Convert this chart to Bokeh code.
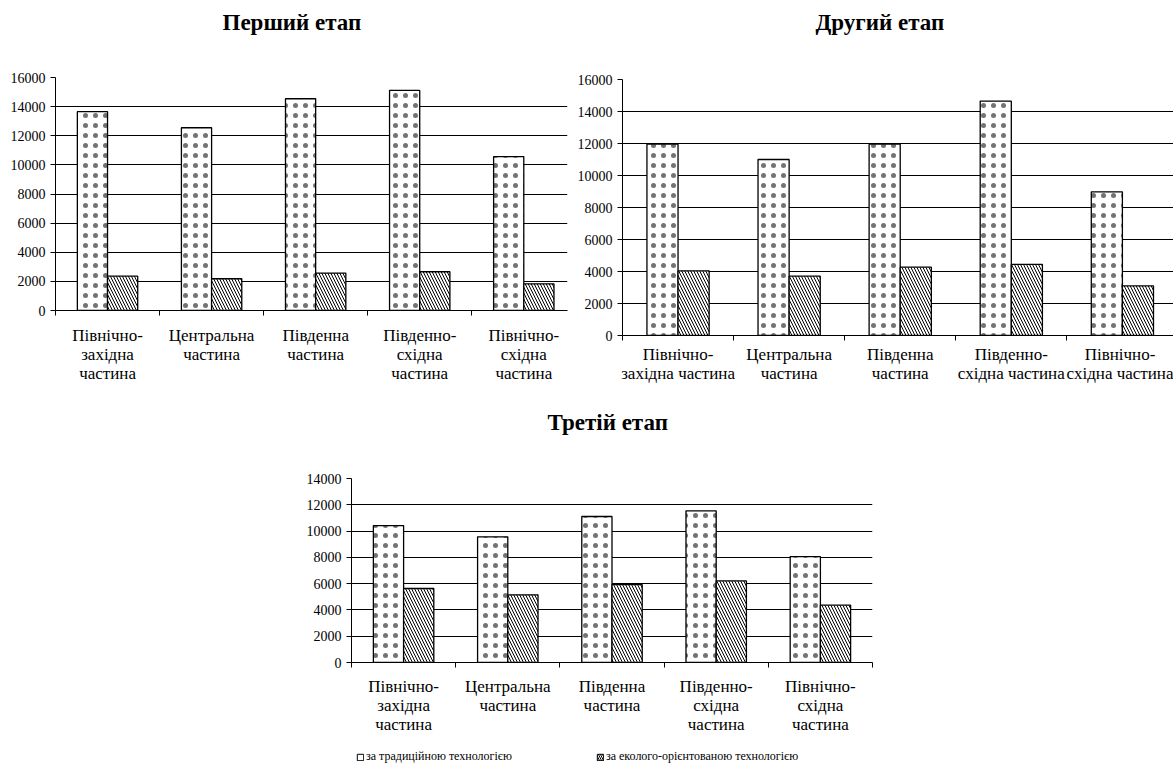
from bokeh.plotting import figure
from bokeh.models import (Range1d, LinearAxis, FixedTicker, SingleIntervalTicker, Grid,
                          Legend, LegendItem, Title, ColumnDataSource)
from bokeh.layouts import column, row
from bokeh.transform import dodge
from bokeh.embed import file_html
from bokeh.resources import INLINE

# ---------------- data ----------------
stage_titles = ["Перший етап", "Другий етап", "Третій етап"]
regions_three_lines = ["Північно-\nзахідна\nчастина", "Центральна\nчастина", "Південна\nчастина",
                       "Південно-\nсхідна\nчастина", "Північно-\nсхідна\nчастина"]
regions_two_lines = ["Північно-\nзахідна частина", "Центральна\nчастина", "Південна\nчастина",
                     "Південно-\nсхідна частина", "Північно-\nсхідна частина"]
series_names = ["за традиційною технологією", "за еколого-орієнтованою технологією"]

traditional_1 = [13650, 12550, 14540, 15110, 10570]
eco_1 = [2360, 2180, 2570, 2660, 1830]
traditional_2 = [11960, 11000, 11960, 14650, 8980]
eco_2 = [4040, 3710, 4270, 4440, 3100]
traditional_3 = [10420, 9560, 11110, 11540, 8060]
eco_3 = [5630, 5150, 5930, 6210, 4360]
y_max = [16000, 16000, 14000]
y_step = 2000

FONT = "Liberation Serif"

TRAD_STYLE = dict(fill_color="white", line_color="black", line_width=1.3,
                  hatch_pattern="dot", hatch_scale=10, hatch_weight=0.8,
                  hatch_color="black", hatch_alpha=0.55)
ECO_STYLE = dict(fill_color="white", line_color="black", line_width=1.3,
                 hatch_pattern="left_diagonal_line", hatch_scale=6, hatch_weight=1,
                 hatch_color="black")


def box(p):
    # wrap so that Bokeh does not align frames of neighbouring plots
    return column(p)


def title_fig(text, width, offset):
    t = figure(width=width, height=60, x_range=Range1d(0, 1), y_range=Range1d(0, 1),
               x_axis_type=None, y_axis_type=None, output_backend="svg",
               toolbar_location=None, min_border=0)
    t.outline_line_color = None
    t.title = Title(text=text, align="left", vertical_align="top", text_font=FONT,
                    text_font_size="23px", text_font_style="bold", text_color="black",
                    offset=offset, standoff=19)
    return t


def make_chart(labels, trad, eco, ymax, width, height, borders, x_end, bar_w, label_standoff):
    bl, br, bt, bb = borders
    p = figure(width=width, height=height, x_range=Range1d(0, x_end), y_range=Range1d(0, ymax),
               x_axis_type=None, y_axis_type=None, output_backend="svg", toolbar_location=None,
               min_border_left=bl, min_border_right=br, min_border_top=bt, min_border_bottom=bb)
    p.outline_line_color = None
    p.border_fill_color = "white"
    p.background_fill_color = "white"

    centers = [i + 0.5 for i in range(len(labels))]
    src = ColumnDataSource(dict(x=centers, trad=trad, eco=eco))

    yax = LinearAxis(ticker=SingleIntervalTicker(interval=y_step, num_minor_ticks=0),
                     major_label_text_font=FONT, major_label_text_font_size="14px",
                     major_label_text_color="black",
                     major_tick_in=0, major_tick_out=5, major_label_standoff=5,
                     minor_tick_line_color=None, axis_line_color="black",
                     major_tick_line_color="black")
    p.add_layout(yax, "left")
    p.add_layout(Grid(dimension=1, ticker=yax.ticker, grid_line_color="black",
                      grid_line_width=1))

    # x axis line with tick marks between the categories
    ticks = list(range(len(labels) + 1))
    xt = LinearAxis(ticker=FixedTicker(ticks=ticks),
                    major_label_overrides={t: "" for t in ticks},
                    major_tick_in=0, major_tick_out=5, major_label_text_font_size="1px",
                    major_label_standoff=0, axis_line_color="black",
                    major_tick_line_color="black", minor_tick_line_color=None)
    p.add_layout(xt, "below")
    # category labels
    xl = LinearAxis(ticker=FixedTicker(ticks=centers),
                    major_label_overrides={c: lab for c, lab in zip(centers, labels)},
                    axis_line_color=None, major_tick_line_color=None,
                    minor_tick_line_color=None, major_label_standoff=label_standoff,
                    major_label_text_font=FONT, major_label_text_font_size="17px",
                    major_label_text_line_height=1.0, major_label_text_color="black")
    p.add_layout(xl, "below")

    p.vbar(x=dodge("x", -bar_w / 2), top="trad", bottom=0, width=bar_w, source=src,
           **TRAD_STYLE)
    p.vbar(x=dodge("x", bar_w / 2), top="eco", bottom=0, width=bar_w, source=src,
           **ECO_STYLE)
    return p, src


t1 = title_fig(stage_titles[0], 568, 222)
p1, _ = make_chart(regions_three_lines, traditional_1, eco_1, y_max[0],
                   568, 340, (55, 1, 17, 90), 4.92, 0.29, 4)
t2 = title_fig(stage_titles[1], 605, 247)
p2, _ = make_chart(regions_two_lines, traditional_2, eco_2, y_max[1],
                   605, 340, (54, 0, 19, 65), 4.96, 0.28, -2)
t3 = title_fig(stage_titles[2], 1173, 547)
p3, src3 = make_chart(regions_three_lines, traditional_3, eco_3, y_max[2],
                      1173, 280, (351, 301, 18, 78), 5.0, 0.29, 3)

# legend strip (its renderers are hidden; only the legend is shown)
p4 = figure(width=1173, height=24, x_range=Range1d(0, 5), y_range=Range1d(0, 1),
            x_axis_type=None, y_axis_type=None, output_backend="svg", toolbar_location=None,
            min_border_left=356, min_border_right=0, min_border_top=0, min_border_bottom=0)
p4.outline_line_color = None
la = p4.vbar(x="x", top="trad", bottom=0, width=0.29, source=src3, fill_color="white",
             line_color="black", line_width=1)
lb = p4.vbar(x="x", top="eco", bottom=0, width=0.29, source=src3,
             **{**ECO_STYLE, "line_width": 1, "hatch_scale": 4})
la.visible = False
lb.visible = False
legend = Legend(items=[LegendItem(label=series_names[0], renderers=[la]),
                       LegendItem(label=series_names[1], renderers=[lb])],
                location="bottom_left", orientation="horizontal", border_line_color=None,
                background_fill_alpha=0, padding=0, margin=0, spacing=84,
                glyph_width=8, glyph_height=8, label_standoff=2, label_height=14,
                label_text_font=FONT, label_text_font_size="12px", label_text_color="black")
p4.add_layout(legend, "center")

layout = column(row(column(box(t1), box(p1)), column(box(t2), box(p2))),
                box(t3), box(p3), box(p4))

with open("out.html", "w") as f:
    f.write(file_html(layout, INLINE))
